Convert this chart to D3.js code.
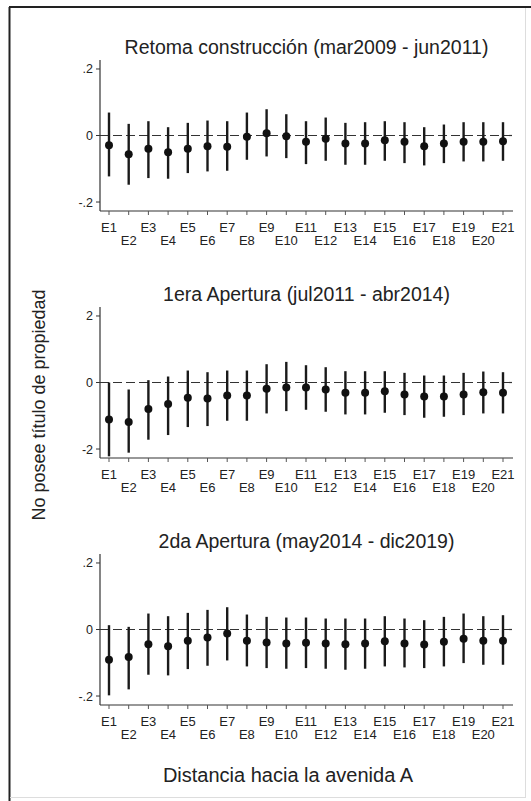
<!DOCTYPE html>
<html>
<head>
  <meta charset="utf-8">
  <title>coefplot</title>
  <style>
    body { margin: 0; background: #fff; }
    text { font-family: "Liberation Sans", Arial, sans-serif; fill: #222; }
  </style>
</head>
<body>
<script src="https://cdnjs.cloudflare.com/ajax/libs/d3/7.8.5/d3.min.js"></script>
<script>
// distance bins
const cats = d3.range(1, 22).map(i => "E" + i);

// Retoma construccion
const est1 = [-0.029,-0.056,-0.040,-0.050,-0.040,-0.032,-0.034,-0.004,0.007,-0.002,-0.019,-0.010,-0.024,-0.024,-0.014,-0.019,-0.032,-0.024,-0.019,-0.019,-0.017];
const lo1  = [-0.123,-0.148,-0.128,-0.130,-0.113,-0.108,-0.106,-0.073,-0.063,-0.068,-0.086,-0.076,-0.088,-0.088,-0.076,-0.083,-0.090,-0.083,-0.078,-0.078,-0.076];
const hi1  = [0.069,0.035,0.043,0.025,0.038,0.045,0.043,0.069,0.079,0.064,0.043,0.054,0.038,0.040,0.043,0.040,0.025,0.033,0.040,0.040,0.040];

// 1era Apertura
const est2 = [-0.111,-0.119,-0.080,-0.065,-0.046,-0.048,-0.039,-0.039,-0.019,-0.015,-0.015,-0.021,-0.031,-0.031,-0.026,-0.036,-0.042,-0.042,-0.036,-0.029,-0.031];
const lo2  = [-0.222,-0.211,-0.172,-0.158,-0.134,-0.131,-0.115,-0.115,-0.093,-0.086,-0.082,-0.088,-0.096,-0.096,-0.091,-0.098,-0.106,-0.103,-0.098,-0.093,-0.093];
const hi2  = [0.000,-0.021,0.007,0.018,0.036,0.031,0.036,0.036,0.055,0.062,0.052,0.046,0.034,0.034,0.034,0.029,0.021,0.021,0.029,0.033,0.031];

// 2da Apertura
const est3 = [-0.091,-0.083,-0.044,-0.050,-0.034,-0.024,-0.012,-0.034,-0.039,-0.042,-0.040,-0.042,-0.044,-0.042,-0.035,-0.042,-0.045,-0.037,-0.028,-0.034,-0.034];
const lo3  = [-0.198,-0.180,-0.136,-0.138,-0.119,-0.109,-0.093,-0.111,-0.116,-0.118,-0.116,-0.118,-0.121,-0.118,-0.111,-0.114,-0.116,-0.111,-0.101,-0.106,-0.106];
const hi3  = [0.013,0.008,0.048,0.040,0.050,0.059,0.067,0.045,0.038,0.036,0.036,0.033,0.033,0.033,0.040,0.033,0.028,0.038,0.048,0.040,0.043];

const titles = [
  "Retoma construcción (mar2009 - jun2011)",
  "1era Apertura (jul2011 - abr2014)",
  "2da Apertura (may2014 - dic2019)"
];
const yTicks = [-0.2, 0, 0.2];
const yTickLabels = [
  ["-.2", "0", ".2"],
  ["-2", "0", "2"],
  ["-.2", "0", ".2"]
];

const W = 531, H = 801;
const svg = d3.select("body").append("svg")
  .attr("width", W).attr("height", H);

svg.append("rect").attr("width", W).attr("height", H).attr("fill", "#fff");

// outer frame (dark left/top, faint right/bottom)
svg.append("line").attr("x1", 9.5).attr("x2", 9.5).attr("y1", 7).attr("y2", H).attr("stroke", "#222").attr("stroke-width", 2);
svg.append("line").attr("x1", 9).attr("x2", W).attr("y1", 7).attr("y2", 7).attr("stroke", "#222").attr("stroke-width", 2);
svg.append("line").attr("x1", 525.5).attr("x2", 525.5).attr("y1", 8).attr("y2", 797).attr("stroke", "#ddd");
svg.append("line").attr("x1", 10).attr("x2", 526).attr("y1", 797.5).attr("y2", 797.5).attr("stroke", "#ddd");

const x = d3.scalePoint().domain(cats).range([109, 503]);
const axL = 100, axR = 513;

const panels = [
  { est: est1, lo: lo1, hi: hi1 },
  { est: est2, lo: lo2, hi: hi2 },
  { est: est3, lo: lo3, hi: hi3 }
];

panels.forEach((p, i) => {
  const top = 60 + i * 247, bot = top + 151;
  const y = d3.scaleLinear().domain([-0.227, 0.227]).range([bot, top]);
  const g = svg.append("g");

  g.append("text")
    .attr("x", (axL + axR) / 2).attr("y", top - 6)
    .attr("text-anchor", "middle")
    .attr("font-size", 19.5)
    .text(titles[i]);

  // zero reference line
  g.append("line")
    .attr("x1", axL).attr("x2", axR)
    .attr("y1", y(0)).attr("y2", y(0))
    .attr("stroke", "#333").attr("stroke-width", 1.2)
    .attr("stroke-dasharray", "9,4");

  // y axis
  g.append("line").attr("x1", axL).attr("x2", axL).attr("y1", top).attr("y2", bot)
    .attr("stroke", "#333").attr("stroke-width", 1.2);
  yTicks.forEach((t, k) => {
    g.append("line").attr("x1", axL - 4).attr("x2", axL).attr("y1", y(t)).attr("y2", y(t))
      .attr("stroke", "#333");
    g.append("text").attr("x", axL - 7).attr("y", y(t) + 4.5)
      .attr("text-anchor", "end").attr("font-size", 12.5)
      .text(yTickLabels[i][k]);
  });

  // x axis
  g.append("line").attr("x1", axL).attr("x2", axR).attr("y1", bot).attr("y2", bot)
    .attr("stroke", "#333").attr("stroke-width", 1.2);
  cats.forEach((c, k) => {
    g.append("line").attr("x1", x(c)).attr("x2", x(c)).attr("y1", bot).attr("y2", bot + 4)
      .attr("stroke", "#555");
    g.append("text").attr("x", x(c)).attr("y", bot + (k % 2 === 0 ? 21 : 34))
      .attr("text-anchor", "middle").attr("font-size", 13)
      .text(c);
  });

  // confidence intervals
  g.selectAll(".ci").data(cats).enter().append("line")
    .attr("x1", d => x(d)).attr("x2", d => x(d))
    .attr("y1", (d, k) => y(p.lo[k])).attr("y2", (d, k) => y(p.hi[k]))
    .attr("stroke", "#1a1a1a").attr("stroke-width", 2.4);

  // point estimates
  g.selectAll(".pt").data(cats).enter().append("circle")
    .attr("cx", d => x(d)).attr("cy", (d, k) => y(p.est[k]))
    .attr("r", 4).attr("fill", "#111");
});

svg.append("text")
  .attr("transform", "translate(45,405) rotate(-90)")
  .attr("text-anchor", "middle").attr("font-size", 18)
  .text("No posee título de propiedad");

svg.append("text")
  .attr("x", 288).attr("y", 782)
  .attr("text-anchor", "middle").attr("font-size", 20)
  .text("Distancia hacia la avenida A");
</script>
</body>
</html>
